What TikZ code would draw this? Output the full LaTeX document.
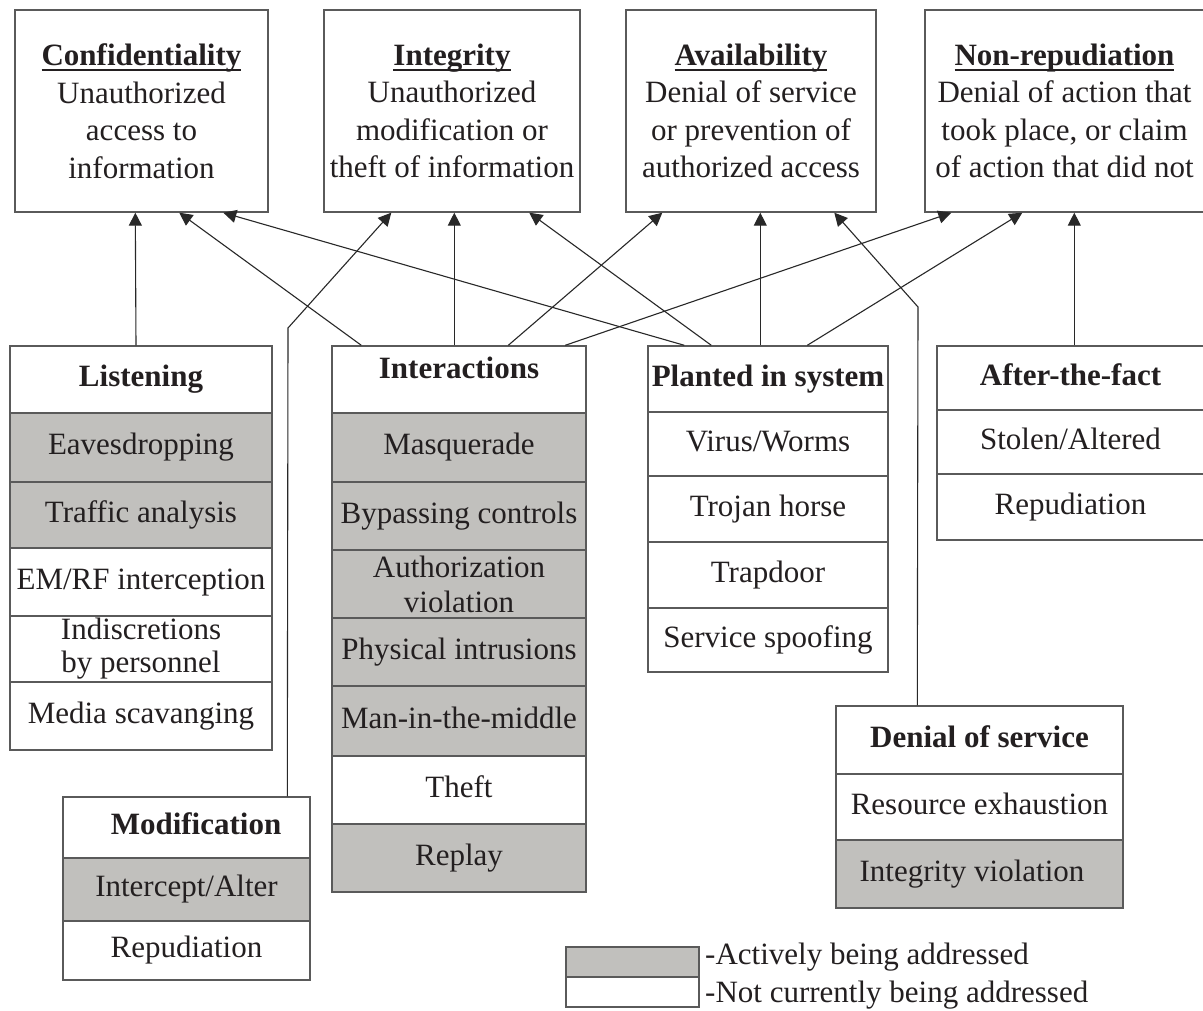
\documentclass[tikz,border=0pt]{standalone}
\usepackage{fontspec}
\setmainfont{Liberation Serif}
\usetikzlibrary{arrows.meta}

\definecolor{ink}{RGB}{35,31,32}
\definecolor{shade}{RGB}{193,192,189}
\definecolor{frame}{RGB}{90,90,90}
\definecolor{wire}{RGB}{40,40,40}

% bold heading with a word-processor style underline
\newsavebox\headbox
\newcommand\headline[1]{\sbox\headbox{\bfseries #1}\rlap{\rule[-5.5pt]{\wd\headbox}{2pt}}\usebox\headbox}

\begin{document}
\begin{tikzpicture}[x=1pt,y=-1pt,
  every node/.style={text=ink},
  goal/.style={draw=frame, line width=1.4pt, fill=white, inner sep=0pt, align=center,
               font=\fontsize{31}{37.5}\selectfont},
  cell/.style={draw=frame, line width=1.4pt, fill=white, inner sep=0pt,
               font=\fontsize{31}{34}\selectfont},
  one/.style={text height=21pt, text depth=7pt},
  two/.style={align=center},
  active/.style={fill=shade},
  head/.style={font=\fontsize{31}{34}\selectfont\bfseries},
  link/.style={draw=wire, line width=1.1pt, -{Triangle[length=13pt,width=13pt]}}]

\useasboundingbox (0,0) rectangle (1203,1011);
\fill[white] (0,0) rectangle (1203,1011);

% security goals
\node[goal, minimum width=253pt, minimum height=202pt] (conf) at (141.5,111)
  {\headline{Confidentiality}\\Unauthorized\\access to\\information};
\node[goal, minimum width=256pt, minimum height=202pt] (integ) at (452,111)
  {\headline{Integrity}\\Unauthorized\\modification or\\theft of information};
\node[goal, minimum width=250pt, minimum height=202pt] (avail) at (751,111)
  {\headline{Availability}\\Denial of service\\or prevention of\\authorized access};
\node[goal, minimum width=279pt, minimum height=202pt] (nonrep) at (1064.5,111)
  {\headline{Non-repudiation}\\Denial of action that\\took place, or claim\\of action that did not};

% Listening
\begin{scope}[every node/.append style={minimum width=262pt}]
\node[cell, one, head, minimum height=67pt] (lis) at (141,379.5) {Listening};
\node[cell, one, active, minimum height=69pt] (lis1) at (141,447.5) {Eavesdropping};
\node[cell, one, active, minimum height=66pt] (lis2) at (141,515) {Traffic analysis};
\node[cell, one, minimum height=68pt] (lis3) at (141,582) {EM/RF interception};
\node[cell, two, minimum height=66pt, font=\fontsize{31}{33}\selectfont] (lis4) at (141,649) {Indiscretions\\by personnel};
\node[cell, one, minimum height=68pt] (lis5) at (141,716) {Media scavanging};
\end{scope}

% Interactions
\begin{scope}[every node/.append style={minimum width=254pt}]
\node[cell, one, head, minimum height=67pt] (int) at (459,379.5) {\raisebox{8pt}{Interactions}};
\node[cell, one, active, minimum height=69pt] (int1) at (459,447.5) {Masquerade};
\node[cell, one, active, minimum height=68pt] (int2) at (459,516) {Bypassing controls};
\node[cell, two, active, minimum height=68pt, font=\fontsize{31}{35}\selectfont] (int3) at (459,584) {Authorization\\violation};
\node[cell, one, active, minimum height=68pt] (int4) at (459,652) {Physical intrusions};
\node[cell, one, active, minimum height=70pt] (int5) at (459,721) {Man-in-the-middle};
\node[cell, one, minimum height=68pt] (int6) at (459,790) {Theft};
\node[cell, one, active, minimum height=68pt] (int7) at (459,858) {Replay};
\end{scope}

% Planted in system
\begin{scope}[every node/.append style={minimum width=240pt}]
\node[cell, one, head, minimum height=66pt] (pla) at (768,379) {Planted in system};
\node[cell, one, minimum height=64pt] (pla1) at (768,444) {Virus/Worms};
\node[cell, one, minimum height=66pt] (pla2) at (768,509) {Trojan horse};
\node[cell, one, minimum height=66pt] (pla3) at (768,575) {Trapdoor};
\node[cell, one, minimum height=64pt] (pla4) at (768,640) {Service spoofing};
\end{scope}

% After-the-fact
\begin{scope}[every node/.append style={minimum width=267pt}]
\node[cell, one, head, minimum height=64pt] (aft) at (1070.5,378) {After-the-fact};
\node[cell, one, minimum height=64pt] (aft1) at (1070.5,442) {Stolen/Altered};
\node[cell, one, minimum height=66pt] (aft2) at (1070.5,507) {Repudiation};
\end{scope}

% Denial of service
\begin{scope}[every node/.append style={minimum width=287pt}]
\node[cell, one, head, minimum height=68pt] (dos) at (979.5,740) {Denial of service};
\node[cell, one, minimum height=66pt] (dos1) at (979.5,807) {Resource exhaustion};
\node[cell, one, active, minimum height=68pt] (dos2) at (979.5,874) {Integrity violation\hspace*{15pt}};
\end{scope}

% Modification
\begin{scope}[every node/.append style={minimum width=247pt}]
\node[cell, one, head, minimum height=61pt] (mod) at (186.5,827.5) {\hspace*{19pt}Modification};
\node[cell, one, active, minimum height=63pt] (mod1) at (186.5,889.5) {Intercept/Alter};
\node[cell, one, minimum height=59pt] (mod2) at (186.5,950.5) {Repudiation};
\end{scope}

% legend
\node[cell, active, minimum width=133pt, minimum height=30pt] (legA) at (632.5,962) {};
\node[cell, minimum width=133pt, minimum height=30pt] (legB) at (632.5,992) {};
\node[anchor=west, inner sep=0pt, font=\fontsize{31}{34}\selectfont, text height=21pt, text depth=7pt]
  (legAt) at (705,957) {-Actively being addressed};
\node[anchor=west, inner sep=0pt, font=\fontsize{31}{34}\selectfont, text height=21pt, text depth=7pt]
  (legBt) at (705,995) {-Not currently being addressed};

% bend points of the two elbow connectors
\coordinate (modbend) at (288,328);
\coordinate (dosbend) at (918,307);

% threats to goals
\draw[link] ([xshift=-5pt]lis.north) -- ([xshift=121pt]conf.south west);
\draw[link] ([xshift=30pt]int.north west) -- ([xshift=165pt]conf.south west);
\draw[link] ([xshift=37pt]pla.north west) -- ([xshift=209pt]conf.south west);

\draw[link] ([xshift=225pt]mod.north west) -- (modbend) -- ([xshift=68pt]integ.south west);
\draw[link] ([xshift=123pt]int.north west) -- ([xshift=131pt]integ.south west);
\draw[link] ([xshift=64pt]pla.north west) -- ([xshift=206pt]integ.south west);

\draw[link] ([xshift=177pt]int.north west) -- ([xshift=37pt]avail.south west);
\draw[link] ([xshift=113pt]pla.north west) -- ([xshift=135pt]avail.south west);
\draw[link] ([xshift=82pt]dos.north west) -- (dosbend) -- ([xshift=209pt]avail.south west);

\draw[link] ([xshift=234pt]int.north west) -- ([xshift=27pt]nonrep.south west);
\draw[link] ([xshift=160pt]pla.north west) -- ([xshift=98pt]nonrep.south west);
\draw[link] ([xshift=138pt]aft.north west) -- ([xshift=150pt]nonrep.south west);
\end{tikzpicture}
\end{document}
